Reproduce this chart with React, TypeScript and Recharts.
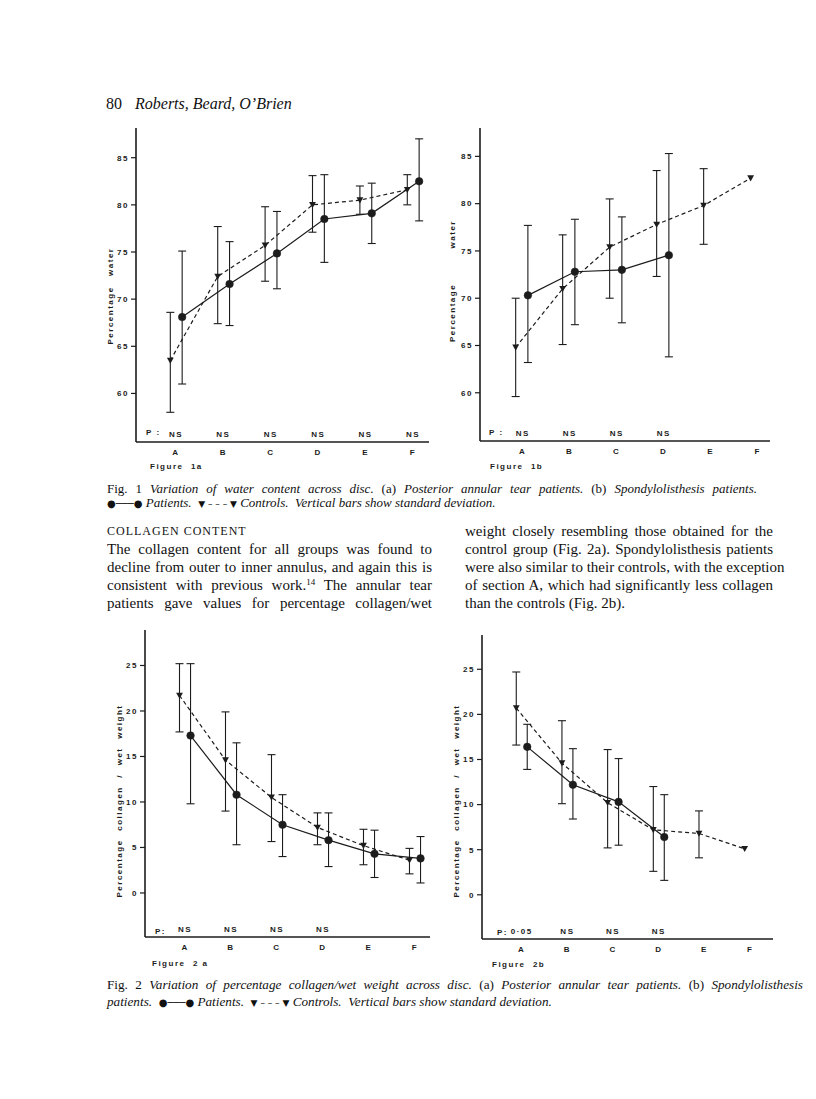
import { LineChart, Line, XAxis, YAxis, ErrorBar } from 'recharts';

const categories = ['A', 'B', 'C', 'D', 'E', 'F'];
const waterTicks = [60, 65, 70, 75, 80, 85];
const collagenTicks = [0, 5, 10, 15, 20, 25];

// Fig 1a: water, posterior annular tear
const fig1aPatientMean = [68.1, 71.6, 74.85, 78.5, 79.1, 82.5];
const fig1aPatientLow = [61.0, 67.2, 71.1, 73.9, 75.9, 78.3];
const fig1aPatientHigh = [75.1, 76.1, 79.3, 83.2, 82.3, 87.0];
const fig1aControlMean = [63.5, 72.4, 75.7, 80.0, 80.5, 81.6];
const fig1aControlLow = [58.0, 67.4, 71.9, 77.1, 79.0, 80.0];
const fig1aControlHigh = [68.6, 77.7, 79.8, 83.1, 82.0, 83.2];
const fig1aP = ['NS', 'NS', 'NS', 'NS', 'NS', 'NS'];

// Fig 1b: water, spondylolisthesis
const fig1bPatientMean = [70.3, 72.8, 73.0, 74.55];
const fig1bPatientLow = [63.2, 67.2, 67.4, 63.8];
const fig1bPatientHigh = [77.7, 78.35, 78.6, 85.3];
const fig1bControlMean = [64.8, 71.0, 75.4, 77.8, 79.8, 82.7];
const fig1bControlLow = [59.6, 65.1, 70.0, 72.3, 75.7, null];
const fig1bControlHigh = [70.0, 76.7, 80.5, 83.5, 83.7, null];
const fig1bP = ['NS', 'NS', 'NS', 'NS'];

// Fig 2a: collagen, posterior annular tear
const fig2aPatientMean = [17.3, 10.8, 7.5, 5.8, 4.3, 3.8];
const fig2aPatientLow = [9.8, 5.3, 4.0, 2.9, 1.7, 1.1];
const fig2aPatientHigh = [25.2, 16.5, 10.8, 8.8, 6.9, 6.2];
const fig2aControlMean = [21.7, 14.6, 10.5, 7.2, 5.2, 3.6];
const fig2aControlLow = [17.7, 9.0, 5.65, 5.3, 3.1, 2.1];
const fig2aControlHigh = [25.2, 19.9, 15.2, 8.8, 7.0, 4.9];
const fig2aP = ['NS', 'NS', 'NS', 'NS'];

// Fig 2b: collagen, spondylolisthesis
const fig2bPatientMean = [16.4, 12.2, 10.3, 6.4];
const fig2bPatientLow = [13.9, 8.4, 5.5, 1.6];
const fig2bPatientHigh = [18.9, 16.2, 15.1, 11.1];
const fig2bControlMean = [20.7, 14.6, 10.2, 7.2, 6.8, 5.1];
const fig2bControlLow = [16.6, 10.1, 5.2, 2.6, 4.1, null];
const fig2bControlHigh = [24.7, 19.3, 16.1, 12.0, 9.3, null];
const fig2bP = ['0·05', 'NS', 'NS', 'NS'];

const INK = '#1c1c1c';
const axisFont = { fontFamily: '"Liberation Sans", Arial, sans-serif', fontWeight: 700, fontSize: 8, fill: INK, letterSpacing: 1.5 };
const serif = '"Liberation Serif", "Times New Roman", serif';

type Pt = { x: number; y: number; err?: [number, number] };

function makeSeries(mean: number[], low: (number | null)[], high: (number | null)[], shift: number): Pt[] {
  return mean.map((m, i) => ({
    x: i + shift,
    y: m,
    err: low[i] == null || high[i] == null ? undefined : [m - (low[i] as number), (high[i] as number) - m],
  }));
}

const Tri = (p: any) => {
  if (p.cx == null || p.cy == null) return <g key={p.index} />;
  return (
    <path
      key={p.index}
      d={`M${p.cx - 3.4},${p.cy - 2.8} L${p.cx + 3.4},${p.cy - 2.8} L${p.cx},${p.cy + 3.3} Z`}
      fill={INK}
    />
  );
};

const Y_W = 40;
const M_TOP = 4;
const M_RIGHT = 4;
const X_H = 24;

type PanelProps = {
  plot: [number, number, number, number];
  xDomain: [number, number];
  yDomain: [number, number];
  yTicks: number[];
  patients: Pt[];
  controls: Pt[];
  pValues: string[];
};

function Panel({ plot, xDomain, yDomain, yTicks, patients, controls, pValues }: PanelProps) {
  const [l, t, r, b] = plot;
  const width = r - l + Y_W + M_RIGHT;
  const height = b - t + M_TOP + X_H;
  const tick = (props: any) => {
    const { x, y, payload } = props;
    const i = payload.value as number;
    return (
      <g key={`t${i}`}>
        <text x={x} y={y + 13} textAnchor="middle" style={axisFont}>{categories[i]}</text>
        {pValues[i] ? (
          <text x={x} y={y - 5} textAnchor="middle" style={axisFont}>{pValues[i]}</text>
        ) : null}
      </g>
    );
  };
  return (
    <div style={{ position: 'absolute', left: l - Y_W, top: t - M_TOP }}>
      <LineChart width={width} height={height} margin={{ top: M_TOP, right: M_RIGHT, left: 0, bottom: 0 }}>
        <XAxis
          type="number"
          dataKey="x"
          domain={xDomain}
          allowDataOverflow
          ticks={[0, 1, 2, 3, 4, 5]}
          interval={0}
          height={X_H}
          tickSize={0}
          tickMargin={0}
          tickLine={false}
          axisLine={{ stroke: INK, strokeWidth: 1.6 }}
          tick={tick}
        />
        <YAxis
          type="number"
          domain={yDomain}
          allowDataOverflow
          ticks={yTicks}
          interval={0}
          width={Y_W}
          tickSize={5}
          tickMargin={2}
          tickLine={{ stroke: INK, strokeWidth: 1.2 }}
          axisLine={{ stroke: INK, strokeWidth: 1.6 }}
          tick={axisFont}
        />
        <Line
          data={controls}
          dataKey="y"
          type="linear"
          stroke={INK}
          strokeWidth={1.2}
          strokeDasharray="4 3"
          dot={Tri}
          activeDot={false}
          isAnimationActive={false}
        >
          <ErrorBar dataKey="err" direction="y" width={4} stroke={INK} strokeWidth={1.1} />
        </Line>
        <Line
          data={patients}
          dataKey="y"
          type="linear"
          stroke={INK}
          strokeWidth={1.2}
          dot={{ r: 3.8, fill: INK, stroke: INK, strokeWidth: 0.5 }}
          activeDot={false}
          isAnimationActive={false}
        >
          <ErrorBar dataKey="err" direction="y" width={4} stroke={INK} strokeWidth={1.1} />
        </Line>
      </LineChart>
    </div>
  );
}

function YLabel({ cx, cy, span, text }: { cx: number; cy: number; span: number; text: string }) {
  return (
    <div
      style={{
        position: 'absolute',
        left: cx - span / 2,
        top: cy - 5,
        width: span,
        height: 10,
        lineHeight: '10px',
        transform: 'rotate(-90deg)',
        transformOrigin: 'center',
        fontFamily: axisFont.fontFamily,
        fontWeight: 700,
        fontSize: 8,
        letterSpacing: 1.5,
        color: INK,
        textAlign: 'justify',
        textAlignLast: 'justify',
        whiteSpace: 'nowrap',
      }}
    >
      {text}
    </div>
  );
}

function Small({ x, y, text, spacing = 1.5 }: { x: number; y: number; text: string; spacing?: number }) {
  return (
    <div
      style={{
        position: 'absolute',
        left: x,
        top: y - 5,
        lineHeight: '10px',
        fontFamily: axisFont.fontFamily,
        fontWeight: 700,
        fontSize: 8,
        letterSpacing: spacing,
        color: INK,
        whiteSpace: 'pre',
      }}
    >
      {text}
    </div>
  );
}

function Txt({
  x, y, size, w, italic, children, spacing,
}: { x: number; y: number; size: number; w?: number; italic?: boolean; children: any; spacing?: number }) {
  return (
    <div
      style={{
        position: 'absolute',
        left: x,
        top: y - size / 2,
        width: w,
        height: size,
        lineHeight: `${size}px`,
        fontFamily: serif,
        fontSize: size,
        fontStyle: italic ? 'italic' : 'normal',
        letterSpacing: spacing,
        color: '#111',
        whiteSpace: w ? 'nowrap' : 'pre',
        textAlign: w ? 'justify' : 'left',
        textAlignLast: w ? 'justify' : 'auto',
      }}
    >
      {children}
    </div>
  );
}

const solidKey = <span style={{ fontStyle: 'normal', fontFamily: '"DejaVu Sans", sans-serif', fontSize: 10 }}>●───●</span>;
const dashKey = <span style={{ fontStyle: 'normal', fontFamily: '"DejaVu Sans", sans-serif', fontSize: 9 }}>▼ – – – ▼</span>;

export default function App() {
  return (
    <div style={{ position: 'absolute', left: 0, top: 0, width: 816, height: 1099, background: '#fff', overflow: 'hidden' }}>
      <Txt x={106} y={104} size={16}>80</Txt>
      <Txt x={135} y={104} size={16} italic>Roberts, Beard, O’Brien</Txt>

      <Panel
        plot={[136, 128, 429, 442]}
        xDomain={[-0.844, 5.338]}
        yDomain={[54.85, 88.15]}
        yTicks={waterTicks}
        patients={makeSeries(fig1aPatientMean, fig1aPatientLow, fig1aPatientHigh, 0.13)}
        controls={makeSeries(fig1aControlMean, fig1aControlLow, fig1aControlHigh, -0.12)}
        pValues={fig1aP}
      />
      <YLabel cx={110} cy={296} span={97} text="Percentage water" />
      <Small x={146} y={433} text="P :" />
      <Small x={150} y={467} text="Figure  1a" />

      <Panel
        plot={[480, 128, 770, 441]}
        xDomain={[-0.909, 5.262]}
        yDomain={[54.9, 88.0]}
        yTicks={waterTicks}
        patients={makeSeries(fig1bPatientMean, fig1bPatientLow, fig1bPatientHigh, 0.11)}
        controls={makeSeries(fig1bControlMean, fig1bControlLow, fig1bControlHigh, -0.15)}
        pValues={fig1bP}
      />
      <YLabel cx={453} cy={281} span={122} text="Percentage water" />
      <Small x={489} y={433} text="P :" />
      <Small x={490} y={467} text="Figure  1b" />

      <Txt x={107} y={488} size={13} w={650}>
        Fig. 1 <i>Variation of water content across disc.</i> (a) <i>Posterior annular tear patients.</i> (b){' '}
        <i>Spondylolisthesis patients.</i>
      </Txt>
      <Txt x={107} y={502} size={13} italic>
        {solidKey} Patients.  {dashKey} Controls.  Vertical bars show standard deviation.
      </Txt>

      <Txt x={107} y={531} size={12} spacing={1}>COLLAGEN CONTENT</Txt>
      <Txt x={107} y={549} size={15} w={325}>The collagen content for all groups was found to</Txt>
      <Txt x={107} y={567} size={15} w={325}>decline from outer to inner annulus, and again this is</Txt>
      <Txt x={107} y={585} size={15} w={325}>
        consistent with previous work.<span style={{ fontSize: 9, position: 'relative', top: -5 }}>14</span> The annular tear
      </Txt>
      <Txt x={107} y={603} size={15} w={325}>patients gave values for percentage collagen/wet</Txt>

      <Txt x={465} y={531} size={15} w={308}>weight closely resembling those obtained for the</Txt>
      <Txt x={465} y={549} size={15} w={308}>control group (Fig. 2a). Spondylolisthesis patients</Txt>
      <Txt x={465} y={567} size={15} w={308}>were also similar to their controls, with the exception</Txt>
      <Txt x={465} y={585} size={15} w={308}>of section A, which had significantly less collagen</Txt>
      <Txt x={465} y={603} size={15}>than the controls (Fig. 2b).</Txt>

      <Panel
        plot={[145, 630, 430, 937]}
        xDomain={[-0.87, 5.326]}
        yDomain={[-4.84, 28.9]}
        yTicks={collagenTicks}
        patients={makeSeries(fig2aPatientMean, fig2aPatientLow, fig2aPatientHigh, 0.12)}
        controls={makeSeries(fig2aControlMean, fig2aControlLow, fig2aControlHigh, -0.12)}
        pValues={fig2aP}
      />
      <YLabel cx={119} cy={801} span={193} text="Percentage collagen / wet weight" />
      <Small x={155} y={932} text="P:" />
      <Small x={152} y={964} text="Figure  2 a" />

      <Panel
        plot={[482, 635, 773, 939]}
        xDomain={[-0.87, 5.5]}
        yDomain={[-4.9, 28.8]}
        yTicks={collagenTicks}
        patients={makeSeries(fig2bPatientMean, fig2bPatientLow, fig2bPatientHigh, 0.12)}
        controls={makeSeries(fig2bControlMean, fig2bControlLow, fig2bControlHigh, -0.12)}
        pValues={fig2bP}
      />
      <YLabel cx={456} cy={801} span={193} text="Percentage collagen / wet weight" />
      <Small x={497} y={933} text="P:" />
      <Small x={492} y={965} text="Figure  2b" />

      <Txt x={107} y={985} size={13.2} w={696}>
        Fig. 2 <i>Variation of percentage collagen/wet weight across disc.</i> (a) <i>Posterior annular tear patients.</i> (b){' '}
        <i>Spondylolisthesis</i>
      </Txt>
      <Txt x={107} y={1002} size={13.2} italic>
        patients.  {solidKey} Patients.  {dashKey} Controls.  Vertical bars show standard deviation.
      </Txt>
    </div>
  );
}
